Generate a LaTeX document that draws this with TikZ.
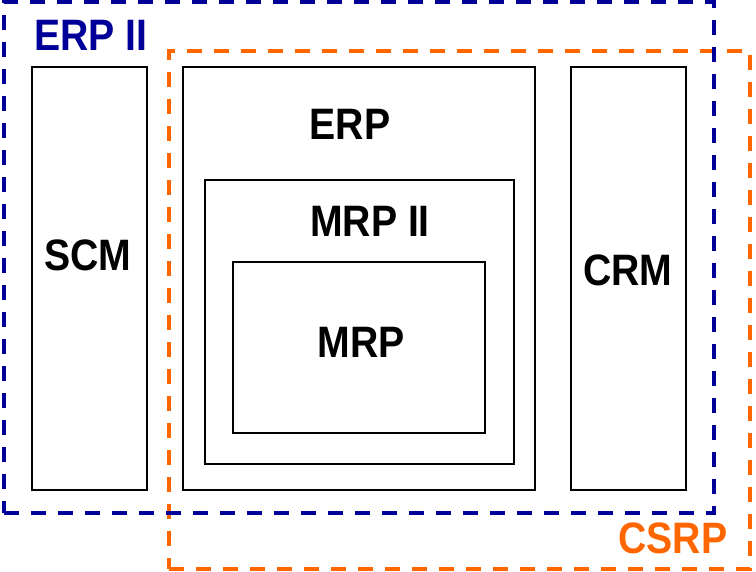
\documentclass[tikz,border=0pt]{standalone}
\usepackage{fontspec}
\setmainfont{Liberation Sans}
\usepackage{tikz}
\usetikzlibrary{positioning}

\definecolor{erpblue}{RGB}{0,0,153}
\definecolor{csrporange}{RGB}{255,102,0}
\newcommand{\talltext}[1]{\scalebox{0.98}[1.1]{#1}}

\begin{document}
\begin{tikzpicture}[x=1pt, y=-1pt,
    box/.style={draw, line width=1.8pt, inner sep=0pt},
    frame/.style={draw, line width=3.3pt, dash pattern=on 15pt off 12pt, inner sep=0pt},
    lbl/.style={font=\fontsize{40}{48}\selectfont\bfseries, inner sep=0pt}]

        \useasboundingbox (0,0) rectangle (756,572);

        % Draw the two dashed frames

        \node[frame, draw=csrporange, minimum width=581pt, minimum height=518pt] (csrpframe) at (459.5,310) {};
        \node[frame, draw=erpblue, minimum width=710pt, minimum height=511pt] (erpiiframe) at (359,257.5) {};

        % Draw the modules

        \node[box, minimum width=115pt, minimum height=423pt] (scmbox) at (89.5,278.5) {};
        \node[box, minimum width=352pt, minimum height=423pt] (erpbox) at (359,278.5) {};
        \node[box, minimum width=309pt, minimum height=284pt] (mrpiibox) at (359.5,322) {};
        \node[box, minimum width=252pt, minimum height=171pt] (mrpbox) at (359,347.5) {};
        \node[box, minimum width=115pt, minimum height=423pt] (crmbox) at (628.5,278.5) {};

        % Labels

        \node[lbl, text=erpblue] (erpii) at (91,35) {\talltext{ERP II}};
        \node[lbl, text=csrporange] (csrp) at (673,538) {\talltext{CSRP}};
        \node[lbl] (scm) at (88,255) {\talltext{SCM}};
        \node[lbl] (erp) at (350,124) {\talltext{ERP}};
        \node[lbl] (mrpii) at (370,221) {\talltext{MRP II}};
        \node[lbl] (mrp) at (361,342) {\talltext{MRP}};
        \node[lbl] (crm) at (628,270) {\talltext{CRM}};
    \end{tikzpicture}
\end{document}
